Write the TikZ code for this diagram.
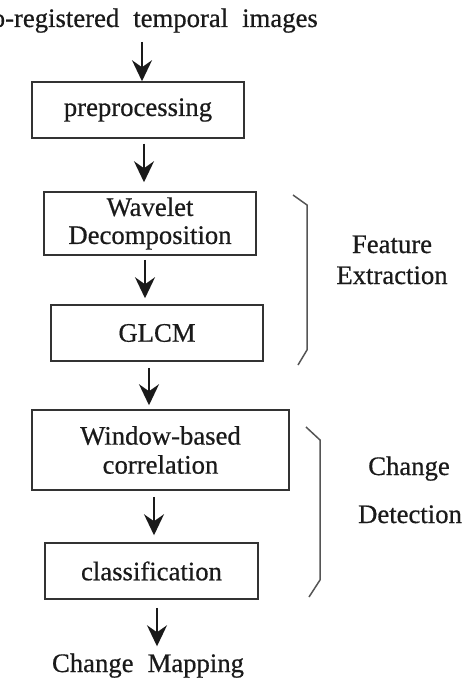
\documentclass[tikz,border=0pt]{standalone}
\usepackage{fontspec}
\setmainfont{Liberation Serif}
\newfontfamily\thickserif{Liberation Serif}[FakeBold=0.6]
\usetikzlibrary{arrows.meta}
\definecolor{ink}{HTML}{1A1A1A}
\definecolor{boxline}{HTML}{333333}
\definecolor{brk}{HTML}{555555}
\begin{document}
\begin{tikzpicture}[x=1pt,y=-1pt,
  every node/.style={text=ink,font=\thickserif\fontsize{26.7}{30}\selectfont},
  stepbox/.style={draw=boxline,line width=1.5pt,rectangle,inner sep=0pt,align=center},
  arr/.style={draw=ink,line width=1.6pt,-{Stealth[length=21pt,width=20pt,inset=7pt]}},
  brace/.style={draw=brk,line width=1.5pt,line join=miter}]
\useasboundingbox (0,0) rectangle (463,687);
\clip (0,0) rectangle (463,687);
% title
\node[anchor=base east,inner sep=0pt] (title) at (318,27) {o-registered\hspace{14pt}temporal\hspace{14pt}images};
% boxes
\node[stepbox,minimum width=212pt,minimum height=56pt] (pre) at (138,110) {preprocessing};
\node[stepbox,minimum width=212pt,minimum height=63pt] (wav) at (150,223.5) {Wavelet\\[-2pt]Decomposition};
\node[stepbox,minimum width=212pt,minimum height=56pt] (glcm) at (157,333) {GLCM};
\node[stepbox,minimum width=257pt,minimum height=80pt] (win) at (160.5,450) {Window-based\\[-1pt]correlation};
\node[stepbox,minimum width=213pt,minimum height=56pt] (cls) at (151.5,571) {classification};
\node[anchor=base,inner sep=0pt] (map) at (148,672) {Change\hspace{14pt}Mapping};
% side labels
\node[anchor=base,inner sep=0pt] (fe1) at (392,253) {Feature};
\node[anchor=base,inner sep=0pt] (fe2) at (392,284) {Extraction};
\node[anchor=base,inner sep=0pt] (cd1) at (409,475) {Change};
\node[anchor=base,inner sep=0pt] (cd2) at (410,523) {Detection};
% arrow columns
\coordinate (c1) at (142,0);
\coordinate (c2) at (144,0);
\coordinate (c3) at (145,0);
\coordinate (c4) at (149,0);
\coordinate (c5) at (154,0);
\coordinate (c6) at (157,0);
% arrows
\draw[arr,shorten <=9pt] (title.south -| c1) -- (pre.north -| c1);
\draw[arr,shorten <=5pt,shorten >=9pt] (pre.south -| c2) -- (wav.north -| c2);
\draw[arr,shorten <=4pt,shorten >=6pt] (wav.south -| c3) -- (glcm.north -| c3);
\draw[arr,shorten <=6pt,shorten >=4pt] (glcm.south -| c4) -- (win.north -| c4);
\draw[arr,shorten <=6pt,shorten >=7pt] (win.south -| c5) -- (cls.north -| c5);
\draw[arr,shorten <=8pt,shorten >=7pt] (cls.south -| c6) -- (map.north -| c6);
% brackets
\draw[brace] (293,195) -- (307,205) -- (307,350) -- (298,365);
\draw[brace] (306,427) -- (320,440) -- (320,580) -- (309,597);
\end{tikzpicture}
\end{document}
